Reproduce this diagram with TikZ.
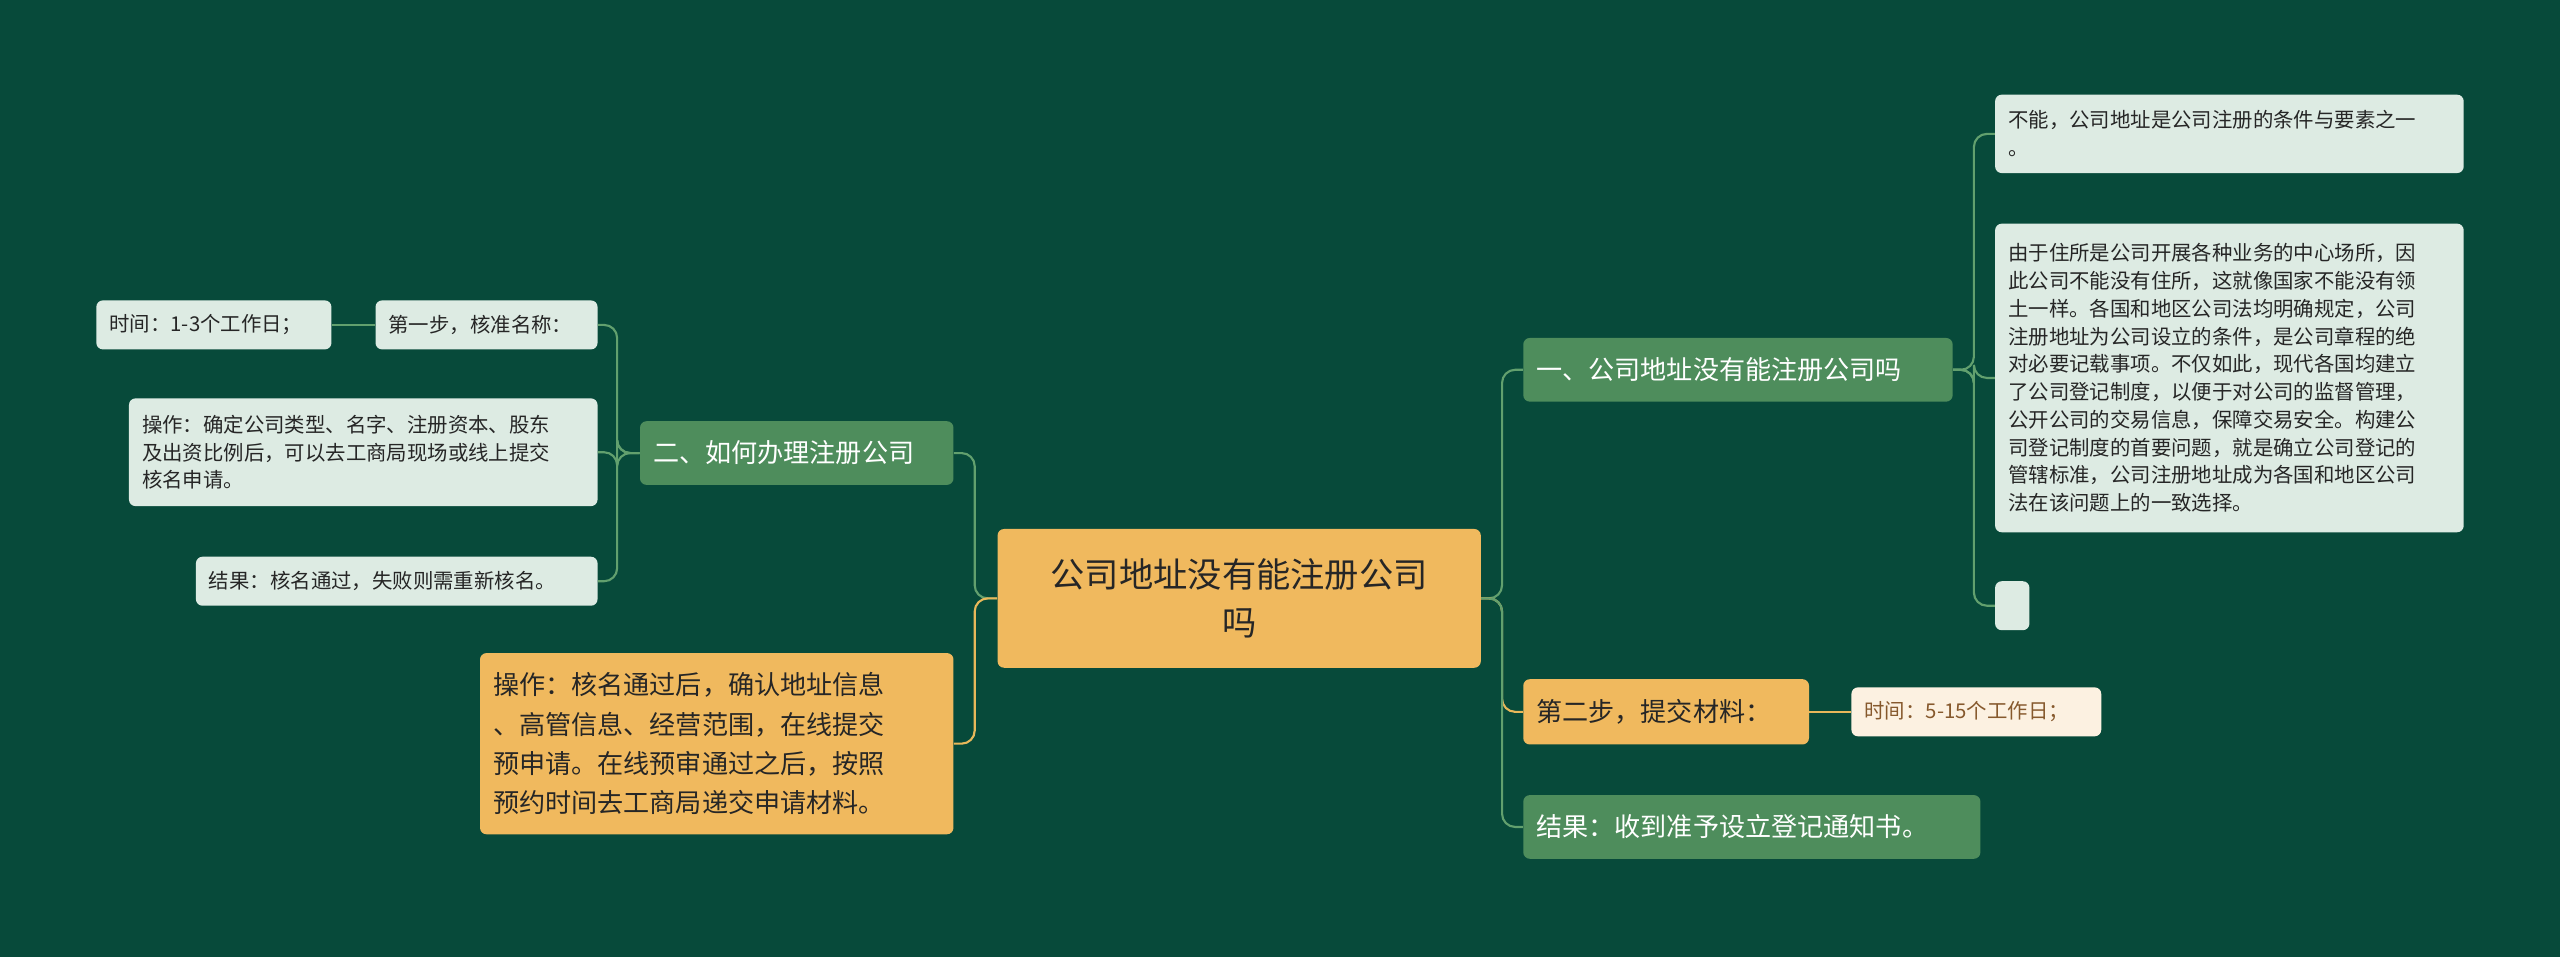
\documentclass[tikz,border=0pt]{standalone}
\usepackage{fontspec}
\setmainfont{Noto Sans CJK SC}
\definecolor{bg}{HTML}{074A3A}
\definecolor{cen}{HTML}{F0B95E}
\definecolor{grn}{HTML}{4E8D5C}
\definecolor{lt}{HTML}{DDEBE3}
\definecolor{cream}{HTML}{FCF1E1}
\definecolor{gline}{HTML}{62A06E}
\definecolor{yline}{HTML}{E8B85A}
\newcommand{\bx}[7]{\node[#6,minimum width={#4-#2},minimum height={#5-#3},text width={#4-#2-16},inner sep=0pt] (#1) at ({(#2+#4)/2},{(#3+#5)/2}) {#7};}
\tikzset{
 box/.style={rounded corners=4pt,align=left},
 cenbox/.style={box,fill=cen,text=black!85,font=\fontsize{21}{29}\selectfont,align=center},
 gbox/.style={box,fill=grn,text=white,font=\fontsize{16}{22}\selectfont},
 lbox/.style={box,fill=lt,text=black!85,font=\fontsize{12.5}{17}\selectfont},
 obox/.style={box,fill=cen,text=black!85,font=\fontsize{16}{24}\selectfont},
 cbox/.style={box,fill=cream,text=brown!70!black,font=\fontsize{12.5}{17}\selectfont},
 gl/.style={draw=gline,line width=1.3pt,rounded corners=8pt},
 yl/.style={draw=yline,line width=1.3pt,rounded corners=8pt},
}
\begin{document}
\begin{tikzpicture}[x=1pt,y=-1pt]
\fill[bg] (0,0) rectangle (1568,586);
\useasboundingbox (0,0) rectangle (1568,586);
\bx{c}{611}{324}{907}{409}{cenbox}{公司地址没有能注册公司\\吗}
\bx{b2}{392}{258}{584}{297}{gbox}{二、如何办理注册公司}
\bx{s1}{230}{184}{366}{214}{lbox}{第一步，核准名称：}
\bx{t1}{59}{184}{203}{214}{lbox}{时间：1-3个工作日；}
\bx{op}{79}{244}{366}{310}{lbox}{操作：确定公司类型、名字、注册资本、股东\\及出资比例后，可以去工商局现场或线上提交\\核名申请。}
\bx{r1}{120}{341}{366}{371}{lbox}{结果：核名通过，失败则需重新核名。}
\bx{o2}{294}{400}{584}{511}{obox}{操作：核名通过后，确认地址信息\\、高管信息、经营范围，在线提交\\预申请。在线预审通过之后，按照\\预约时间去工商局递交申请材料。}
\bx{b1}{933}{207}{1196}{246}{gbox}{一、公司地址没有能注册公司吗}
\bx{a1}{1222}{58}{1509}{106}{lbox}{不能，公司地址是公司注册的条件与要素之一\\。}
\bx{a2}{1222}{137}{1509}{326}{lbox}{由于住所是公司开展各种业务的中心场所，因\\此公司不能没有住所，这就像国家不能没有领\\土一样。各国和地区公司法均明确规定，公司\\注册地址为公司设立的条件，是公司章程的绝\\对必要记载事项。不仅如此，现代各国均建立\\了公司登记制度，以便于对公司的监督管理，\\公开公司的交易信息，保障交易安全。构建公\\司登记制度的首要问题，就是确立公司登记的\\管辖标准，公司注册地址成为各国和地区公司\\法在该问题上的一致选择。}
\node[box,fill=lt,minimum width=21,minimum height=30,inner sep=0pt] (a3) at (1232.5,371) {};
\bx{s2}{933}{416}{1108}{456}{obox}{第二步，提交材料：}
\bx{t2}{1134}{421}{1287}{451}{cbox}{时间：5-15个工作日；}
\bx{r2}{933}{487}{1213}{526}{gbox}{结果：收到准予设立登记通知书。}
% left
\draw[gl] (c.west) -- (597,366.5) |- (b2.east);
\draw[yl] (c.west) -- (597,366.5) |- (o2.east);
\draw[gl] (b2.west) -- (378,277.5) |- (s1.east);
\draw[gl] (b2.west) -- (378,277.5) |- (op.east);
\draw[gl] (b2.west) -- (378,277.5) |- (r1.east);
\draw[gl] (s1.west) -- (t1.east);
% right
\draw[gl] (c.east) -- (920,366.5) |- (b1.west);
\draw[yl] (c.east) -- (920,366.5) |- (s2.west);
\draw[gl] (c.east) -- (920,366.5) |- (r2.west);
\draw[gl] (b1.east) -- (1209,226.5) |- (a1.west);
\draw[gl] (b1.east) -- (1209,226.5) |- (a2.west);
\draw[gl] (b1.east) -- (1209,226.5) |- (a3.west);
\draw[yl] (s2.east) -- (t2.west);
\end{tikzpicture}
\end{document}
